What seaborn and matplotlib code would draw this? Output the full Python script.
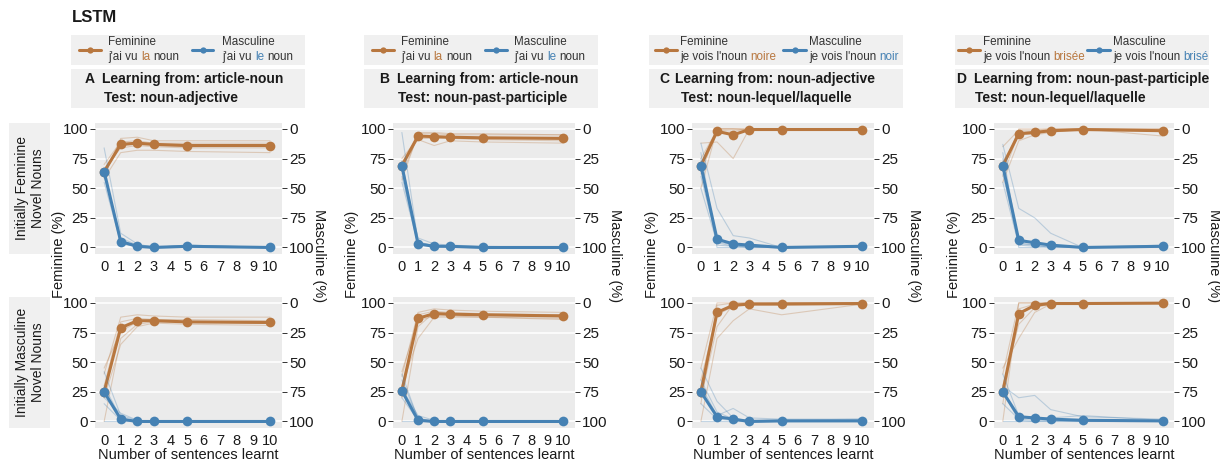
import numpy as np
import pandas as pd
import matplotlib
matplotlib.use('Agg')
import matplotlib.pyplot as plt
import seaborn as sns
from matplotlib.patches import Rectangle
from matplotlib.lines import Line2D

# ─────────────────────────────────────────────
# DATA
# ─────────────────────────────────────────────
x_sent = [0, 1, 2, 3, 5, 10]

# Column A - learning from article-noun, test noun-adjective
fem_A1 = [64, 87, 88, 87, 86, 86]
masc_A1 = [36, 95, 99, 100, 99, 100]
fem_runs_A1 = [[60, 92, 93, 90, 90, 90], [66, 84, 86, 85, 84, 84],
               [58, 80, 82, 82, 81, 80], [70, 89, 90, 88, 88, 88],
               [63, 86, 87, 86, 85, 86]]
masc_runs_A1 = [[16, 88, 97, 100, 98, 100], [40, 94, 99, 100, 99, 100],
                [45, 96, 100, 100, 100, 100], [38, 92, 98, 99, 99, 100],
                [35, 97, 99, 100, 98, 100]]
fem_A2 = [25, 79, 85, 85, 84, 83.5]
masc_A2 = [75, 98, 100, 100, 100, 100]
fem_runs_A2 = [[0, 70, 82, 84, 84, 83], [40, 88, 90, 89, 88, 88],
               [20, 65, 80, 83, 82, 81], [30, 84, 87, 86, 86, 85],
               [45, 76, 84, 85, 84, 84]]
masc_runs_A2 = [[58, 95, 99, 100, 100, 100], [85, 99, 100, 100, 100, 100],
                [70, 97, 100, 100, 100, 100], [100, 100, 100, 100, 100, 100],
                [80, 93, 99, 100, 100, 100]]

# Column B - learning from article-noun, test noun-past-participle
fem_B1 = [69, 94, 93.5, 93, 92.5, 92]
masc_B1 = [31, 97, 99, 99, 100, 100]
fem_runs_B1 = [[57, 96, 96, 95, 95, 95], [72, 91, 86, 90, 89, 88],
               [65, 97, 97, 96, 96, 95], [75, 92, 92, 92, 91, 90],
               [62, 94, 94, 93, 93, 93]]
masc_runs_B1 = [[3, 95, 99, 99, 100, 100], [27, 98, 99, 100, 100, 100],
                [40, 96, 98, 99, 100, 100], [45, 97, 99, 100, 100, 100],
                [35, 92, 97, 98, 99, 100]]
fem_B2 = [26, 87, 91, 90.5, 90, 89]
masc_B2 = [74, 99, 100, 100, 100, 100]
fem_runs_B2 = [[0, 80, 92, 91, 90, 90], [38, 92, 95, 94, 93, 92],
               [30, 70, 88, 88, 88, 87], [20, 90, 93, 92, 91, 90],
               [42, 85, 89, 89, 88, 86]]
masc_runs_B2 = [[65, 97, 100, 100, 100, 100], [80, 99, 100, 100, 100, 100],
                [100, 100, 100, 100, 100, 100], [72, 95, 99, 100, 100, 100],
                [60, 98, 100, 100, 100, 100]]

# Column C - learning from noun-adjective, test noun-lequel/laquelle
fem_C1 = [69, 98, 95, 99.5, 99.5, 99.5]
masc_C1 = [31, 93, 97, 98, 100, 99]
fem_runs_C1 = [[50, 100, 100, 100, 100, 100], [88, 89, 75, 100, 100, 100],
               [75, 99, 98, 100, 100, 100], [62, 100, 100, 99, 100, 99],
               [70, 100, 100, 100, 100, 100]]
masc_runs_C1 = [[12, 67, 90, 92, 100, 99], [50, 96, 99, 100, 100, 100],
                [25, 100, 100, 99, 100, 99], [40, 95, 98, 100, 100, 99],
                [20, 98, 99, 100, 100, 100]]
fem_C2 = [25, 92, 98, 99, 99, 99.5]
masc_C2 = [75, 96, 98, 100, 99.5, 99.5]
fem_runs_C2 = [[0, 70, 85, 95, 90, 99], [45, 100, 100, 100, 100, 100],
               [15, 98, 100, 100, 100, 100], [35, 90, 97, 99, 100, 100],
               [20, 80, 99, 100, 100, 100]]
masc_runs_C2 = [[55, 83, 97, 100, 100, 99], [100, 100, 100, 100, 100, 100],
                [70, 95, 89, 97, 98, 98], [85, 98, 99, 100, 99, 100],
                [65, 92, 98, 99, 99, 98]]

# Column D - learning from noun-past-participle, test noun-lequel/laquelle
fem_D1 = [69, 96, 97, 98.5, 99.5, 98.5]
masc_D1 = [31, 94, 96, 98, 100, 99]
fem_runs_D1 = [[55, 90, 95, 97, 100, 94], [85, 99, 99, 100, 100, 100],
               [65, 100, 100, 100, 100, 100], [72, 95, 96, 98, 99, 99],
               [60, 97, 98, 99, 100, 99]]
masc_runs_D1 = [[13, 67, 75, 88, 100, 99], [45, 98, 99, 100, 100, 100],
                [25, 100, 100, 99, 100, 99], [38, 96, 98, 100, 100, 100],
                [20, 97, 98, 99, 100, 98]]
fem_D2 = [25, 91, 98, 99.5, 99.5, 99.8]
masc_D2 = [75, 96, 97, 98, 99, 99.5]
fem_runs_D2 = [[0, 100, 100, 100, 100, 100], [45, 70, 92, 99, 100, 100],
               [15, 95, 99, 100, 100, 100], [30, 82, 96, 99, 99, 100],
               [40, 100, 100, 100, 100, 100]]
masc_runs_D2 = [[70, 80, 78, 90, 96, 98], [100, 100, 100, 100, 100, 100],
                [85, 98, 99, 100, 99, 100], [60, 95, 97, 97, 95, 99],
                [75, 99, 100, 99, 100, 100]]

panel_letters = ['A', 'B', 'C', 'D']
learn_from = ['article-noun', 'article-noun', 'noun-adjective',
              'noun-past-participle']
test_on = ['noun-adjective', 'noun-past-participle', 'noun-lequel/laquelle',
           'noun-lequel/laquelle']
legend_fem = [("j'ai vu", 'la', 'noun'), ("j'ai vu", 'la', 'noun'),
              ("je vois l'noun", 'noire', ''), ("je vois l'noun", 'brisée', '')]
legend_masc = [("j'ai vu", 'le', 'noun'), ("j'ai vu", 'le', 'noun'),
               ("je vois l'noun", 'noir', ''), ("je vois l'noun", 'brisé', '')]
row_labels = ['Initially Feminine\nNovel Nouns',
              'Initially Masculine\nNovel Nouns']

panels = [
    [(fem_A1, masc_A1, fem_runs_A1, masc_runs_A1),
     (fem_A2, masc_A2, fem_runs_A2, masc_runs_A2)],
    [(fem_B1, masc_B1, fem_runs_B1, masc_runs_B1),
     (fem_B2, masc_B2, fem_runs_B2, masc_runs_B2)],
    [(fem_C1, masc_C1, fem_runs_C1, masc_runs_C1),
     (fem_C2, masc_C2, fem_runs_C2, masc_runs_C2)],
    [(fem_D1, masc_D1, fem_runs_D1, masc_runs_D1),
     (fem_D2, masc_D2, fem_runs_D2, masc_runs_D2)],
]

# ─────────────────────────────────────────────
# STYLE
# ─────────────────────────────────────────────
BROWN = '#B8773F'
BLUE = '#4682B4'
BOX_GREY = '#F0F0F0'
PANEL_BG = '#EBEBEB'
TXT = '#1A1A1A'

sns.set_theme(style='darkgrid', rc={'axes.facecolor': PANEL_BG})
plt.rcParams['font.family'] = ['Liberation Sans', 'DejaVu Sans']

W, H = 1220, 466
fig = plt.figure(figsize=(W / 100, H / 100), dpi=100)
fig.patch.set_facecolor('white')

# pixel layout of each column (left, right) and each row (top, bottom)
col_px = [(95, 282), (393, 575), (692, 874), (994, 1174)]
row_px = [(123, 254), (297, 428)]
box_px = [(71, 305), (364, 598), (649, 903), (955, 1209)]
title_x = [(85, 102, 104), (379, 397, 398), (659, 675, 681), (956, 974, 975)]
leg_x = [(79, 101, 108, 192, 213, 222), (372, 394, 401, 485, 507, 514),
         (655, 677, 680, 783, 806, 809), (958, 980, 983, 1087, 1110, 1113)]
ylab_x = [(59, 319), (352, 615), (652, 914), (954, 1214)]


def fx(x):
    return x / W


def fy(y):
    return 1 - y / H


def runs_frame(runs):
    rows = []
    for i, r in enumerate(runs):
        for xv, v in zip(x_sent, r):
            rows.append({'n': xv, 'run': i, 'val': v})
    return pd.DataFrame(rows)


def grey_box(x0, x1, y0, y1):
    fig.add_artist(Rectangle((fx(x0), fy(y1)), (x1 - x0) / W, (y1 - y0) / H,
                             transform=fig.transFigure, color=BOX_GREY,
                             zorder=0, lw=0))


renderer = fig.canvas.get_renderer()


def text_width(s, size):
    t = fig.text(0, 0, s, fontsize=size)
    w = t.get_window_extent(renderer=renderer).width
    t.remove()
    return w


def seg_text(x, y, parts, size):
    space = text_width('a a', size) - text_width('aa', size)
    for s, c in parts:
        if not s:
            continue
        t = fig.text(fx(x), fy(y), s, color=c, fontsize=size,
                     ha='left', va='center')
        x += t.get_window_extent(renderer=renderer).width + space


def legend_entry(x0, x1, xt, colour, name, phrase):
    ym = 49.5
    fig.add_artist(Line2D([fx(x0), fx(x1)], [fy(ym), fy(ym)],
                          transform=fig.transFigure, color=colour, lw=2.2))
    fig.add_artist(Line2D([fx((x0 + x1) / 2)], [fy(ym)], marker='o',
                          ms=4.5, mew=0, color=colour,
                          transform=fig.transFigure))
    fig.text(fx(xt), fy(42), name, fontsize=8.4, color='#333333',
             ha='left', va='center')
    pre, word, post = phrase
    seg_text(xt, 57, [(pre, '#333333'), (word, colour), (post, '#333333')],
             8.4)


def draw_panel(ax, fem, masc, fem_runs, masc_runs, bottom):
    ax2 = ax.twinx()
    sns.lineplot(data=runs_frame(fem_runs), x='n', y='val', units='run',
                 estimator=None, color=BROWN, alpha=0.3, linewidth=0.8,
                 ax=ax, legend=False)
    sns.lineplot(x=x_sent, y=fem, color=BROWN, linewidth=2.2, marker='o',
                 markersize=7, markeredgewidth=0, ax=ax)
    sns.lineplot(data=runs_frame(masc_runs), x='n', y='val', units='run',
                 estimator=None, color=BLUE, alpha=0.3, linewidth=0.8,
                 ax=ax2, legend=False)
    sns.lineplot(x=x_sent, y=masc, color=BLUE, linewidth=2.2, marker='o',
                 markersize=7, markeredgewidth=0, ax=ax2)

    ax.set_xlim(-0.55, 10.72)
    ax.set_ylim(-5.5, 105)
    ax2.set_ylim(105.5, -5)
    ax.set_xticks(range(11))
    ax.set_yticks([0, 25, 50, 75, 100])
    ax2.set_yticks([0, 25, 50, 75, 100])
    ax.grid(axis='x', visible=False)
    ax.grid(axis='y', color='white', linewidth=1.1)
    ax2.grid(False)
    for a in (ax, ax2):
        for s in a.spines.values():
            s.set_visible(False)
        a.set_ylabel('')
        a.tick_params(axis='both', length=3.5, width=0.7, color='#333333',
                      labelsize=11, labelcolor=TXT, pad=1.5)
    ax.tick_params(axis='x', labelsize=10.5, pad=1)
    ax2.tick_params(axis='y', left=False, right=True)
    if bottom:
        ax.set_xlabel('Number of sentences learnt', fontsize=10.5,
                      color=TXT, labelpad=0)
    else:
        ax.set_xlabel('')


# ─────────────────────────────────────────────
# FIGURE
# ─────────────────────────────────────────────
fig.text(fx(72), fy(18), 'LSTM', fontsize=12, fontweight='bold',
         color=TXT, ha='left', va='center')

for r, (y0, y1) in enumerate(row_px):
    grey_box(9, 50, y0, y1)
    fig.text(fx(30), fy((y0 + y1) / 2), row_labels[r], rotation=90,
             fontsize=10, color=TXT, ha='center', va='center',
             multialignment='center')

for c in range(4):
    bx0, bx1 = box_px[c]
    grey_box(bx0, bx1, 35, 65)
    grey_box(bx0, bx1, 69, 108)

    lx = leg_x[c]
    legend_entry(lx[0], lx[1], lx[2], BROWN, 'Feminine', legend_fem[c])
    legend_entry(lx[3], lx[4], lx[5], BLUE, 'Masculine', legend_masc[c])

    tx = title_x[c]
    fig.text(fx(tx[0]), fy(79), panel_letters[c], fontsize=10,
             fontweight='bold', color=TXT, ha='left', va='center')
    fig.text(fx(tx[1]), fy(79), 'Learning from: ' + learn_from[c],
             fontsize=10, fontweight='bold', color=TXT, ha='left',
             va='center')
    fig.text(fx(tx[2]), fy(98), 'Test: ' + test_on[c], fontsize=10,
             fontweight='bold', color=TXT, ha='left', va='center')

    cx0, cx1 = col_px[c]
    for r, (y0, y1) in enumerate(row_px):
        ax = fig.add_axes([fx(cx0), fy(y1), (cx1 - cx0) / W, (y1 - y0) / H])
        fem, masc, fem_runs, masc_runs = panels[c][r]
        draw_panel(ax, fem, masc, fem_runs, masc_runs, bottom=(r == 1))

    fig.text(fx(ylab_x[c][0]), fy(254), 'Feminine (%)', rotation=90,
             fontsize=10.5, color=TXT, ha='center', va='center')
    fig.text(fx(ylab_x[c][1]), fy(256), 'Masculine (%)', rotation=270,
             fontsize=10.5, color=TXT, ha='center', va='center')

plt.savefig('out.png', dpi=100)
plt.close()
